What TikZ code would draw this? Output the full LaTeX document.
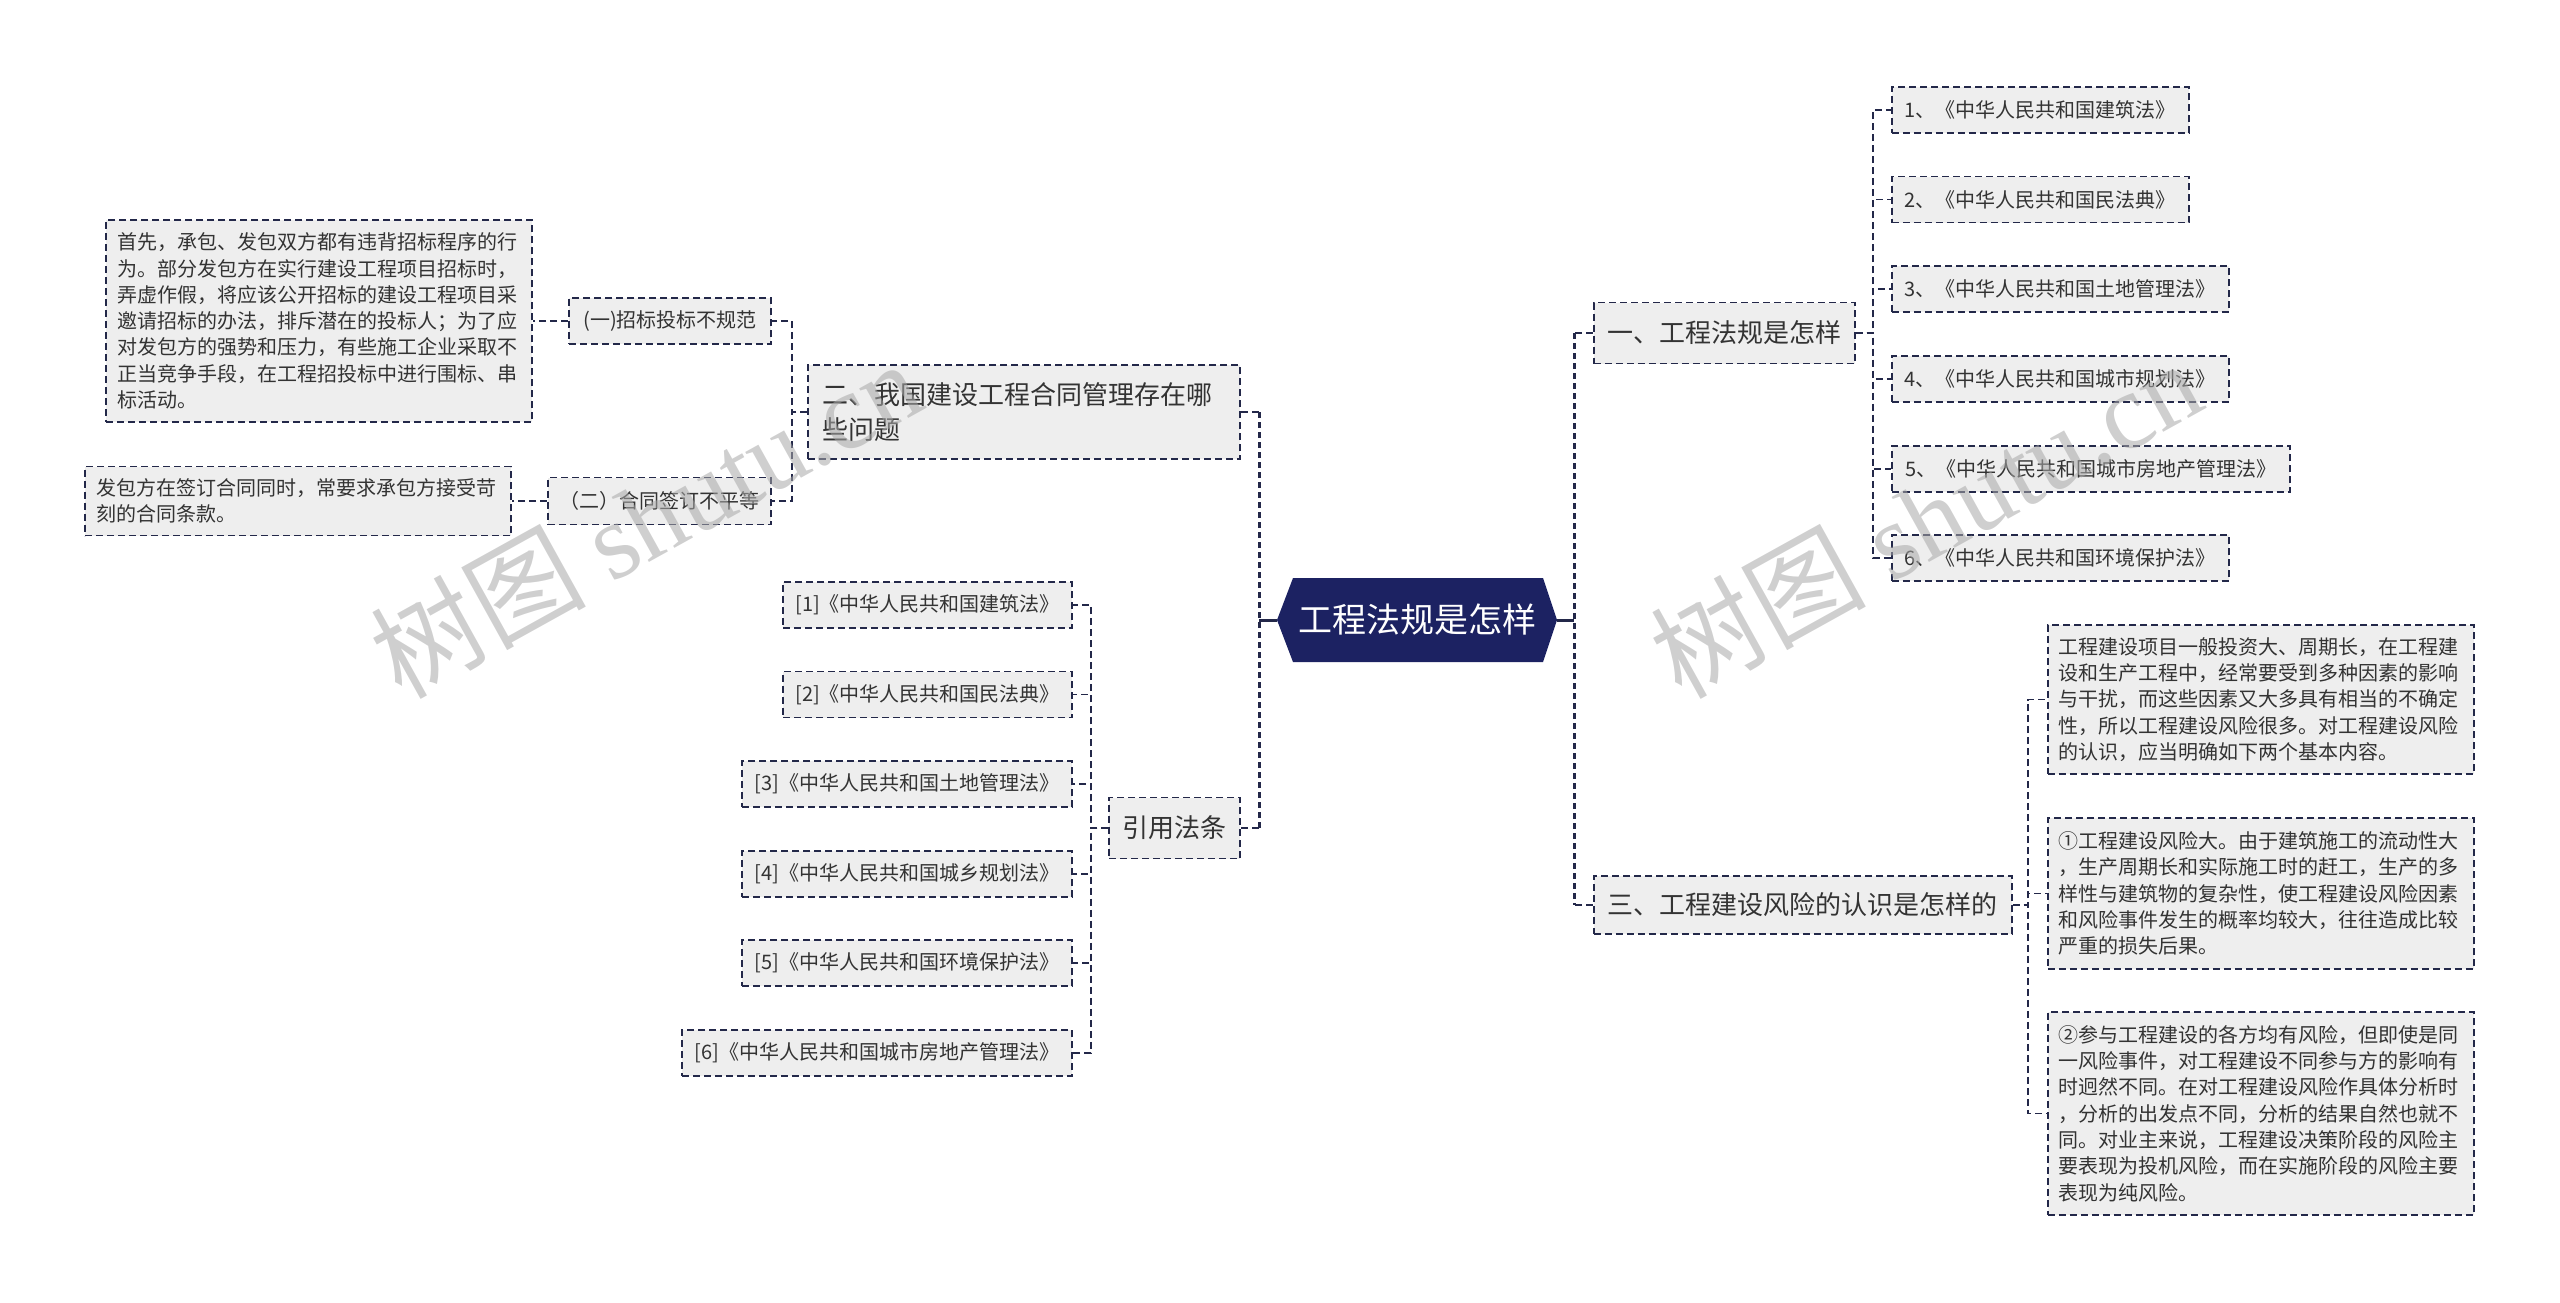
\documentclass[tikz,border=0pt]{standalone}
\usepackage{fontspec}
\setmainfont{Noto Sans CJK SC}
\newfontfamily\wmlatin{Liberation Serif}
\definecolor{linec}{HTML}{232849}
\definecolor{rootc}{HTML}{1C2262}
\definecolor{boxf}{HTML}{EEEEEE}
\definecolor{txtc}{HTML}{333333}
\definecolor{wmc}{HTML}{A8A8A8}
\begin{document}
\begin{tikzpicture}[x=1pt,y=-1pt,
  box/.style={draw=linec, fill=boxf, line width=1.8pt, dash pattern=on 7pt off 4pt, text=txtc, inner sep=0pt, rectangle},
  small/.style={font=\fontsize{20}{26.3}\selectfont},
  big/.style={font=\fontsize{26}{35}\selectfont},
  leaf/.style={box, small, minimum height=46pt},
  para/.style={box, small, align=left, text width=404pt, inner xsep=11pt, inner ysep=9pt},
  conn/.style={draw=linec, line width=1.8pt, dash pattern=on 7pt off 4pt},
  mtrunk/.style={draw=linec, line width=3pt, dash pattern=on 6pt off 4pt},
  solidc/.style={draw=linec, line width=3pt},
  wm/.style={text=wmc, opacity=0.55, font=\fontsize{108}{112}\selectfont, rotate=29},
]
\useasboundingbox (0,0) rectangle (2560,1302);

% root
\fill[rootc] (1277,620) -- (1293,578) -- (1543,578) -- (1557,620) -- (1543,662) -- (1293,662) -- cycle;
\node[minimum width=280pt, minimum height=84pt, inner sep=0pt, text=white, font=\fontsize{34}{40}\selectfont] (root) at (1417,620) {工程法规是怎样};
\coordinate (LT) at (1259,620);
\coordinate (RT) at (1574,620);

% level 1
\node[box, big, anchor=west, minimum width=261pt, minimum height=61pt] (n1) at (1593,333) {一、工程法规是怎样};
\node[box, big, anchor=west, minimum width=418pt, minimum height=58pt] (n3) at (1593,905) {三、工程建设风险的认识是怎样的};
\node[box, big, anchor=east, align=left, text width=404pt, inner xsep=14pt, minimum height=94pt] (n2) at (1241,412) {二、我国建设工程合同管理存在哪\\些问题};
\node[box, big, anchor=east, minimum width=131pt, minimum height=61pt] (n4) at (1241,828) {引用法条};

% right of n1
\coordinate (S1) at (1873,0);
\node[leaf, anchor=west, minimum width=297pt] (r1) at (1891,110) {1、《中华人民共和国建筑法》};
\node[leaf, anchor=west, minimum width=297pt] (r2) at (1891,199.5) {2、《中华人民共和国民法典》};
\node[leaf, anchor=west, minimum width=337pt] (r3) at (1891,289) {3、《中华人民共和国土地管理法》};
\node[leaf, anchor=west, minimum width=337pt] (r4) at (1891,379) {4、《中华人民共和国城市规划法》};
\node[leaf, anchor=west, minimum width=398pt] (r5) at (1891,469) {5、《中华人民共和国城市房地产管理法》};
\node[leaf, anchor=west, minimum width=337pt] (r6) at (1891,558) {6、《中华人民共和国环境保护法》};

% right of n3
\coordinate (S3) at (2028,0);
\node[para, anchor=west, minimum height=149pt] (pa) at (2047,699.5) {工程建设项目一般投资大、周期长，在工程建\\设和生产工程中，经常要受到多种因素的影响\\与干扰，而这些因素又大多具有相当的不确定\\性，所以工程建设风险很多。对工程建设风险\\的认识，应当明确如下两个基本内容。};
\node[para, anchor=west, minimum height=151pt] (pb) at (2047,893.5) {①工程建设风险大。由于建筑施工的流动性大\\，生产周期长和实际施工时的赶工，生产的多\\样性与建筑物的复杂性，使工程建设风险因素\\和风险事件发生的概率均较大，往往造成比较\\严重的损失后果。};
\node[para, anchor=west, minimum height=203pt] (pc) at (2047,1113.5) {②参与工程建设的各方均有风险，但即使是同\\一风险事件，对工程建设不同参与方的影响有\\时迥然不同。在对工程建设风险作具体分析时\\，分析的出发点不同，分析的结果自然也就不\\同。对业主来说，工程建设决策阶段的风险主\\要表现为投机风险，而在实施阶段的风险主要\\表现为纯风险。};

% left of n2
\coordinate (S2) at (792,0);
\node[leaf, anchor=east, minimum width=202pt] (l1) at (772,321) {(一)招标投标不规范};
\node[leaf, anchor=east, minimum width=223pt, minimum height=47pt] (l2) at (772,501) {（二）合同签订不平等};
\node[para, anchor=east, minimum height=202pt] (pl1) at (533,321) {首先，承包、发包双方都有违背招标程序的行\\为。部分发包方在实行建设工程项目招标时，\\弄虚作假，将应该公开招标的建设工程项目采\\邀请招标的办法，排斥潜在的投标人；为了应\\对发包方的强势和压力，有些施工企业采取不\\正当竞争手段，在工程招投标中进行围标、串\\标活动。};
\node[para, anchor=east, minimum height=69pt] (pl2) at (512,501) {发包方在签订合同同时，常要求承包方接受苛\\刻的合同条款。};

% left of n4
\coordinate (S4) at (1091,0);
\node[leaf, anchor=east, minimum width=289pt] (c1) at (1073,605) {[1]《中华人民共和国建筑法》};
\node[leaf, anchor=east, minimum width=289pt] (c2) at (1073,694.5) {[2]《中华人民共和国民法典》};
\node[leaf, anchor=east, minimum width=330pt] (c3) at (1073,784) {[3]《中华人民共和国土地管理法》};
\node[leaf, anchor=east, minimum width=330pt] (c4) at (1073,874) {[4]《中华人民共和国城乡规划法》};
\node[leaf, anchor=east, minimum width=330pt] (c5) at (1073,963) {[5]《中华人民共和国环境保护法》};
\node[leaf, anchor=east, minimum width=390pt] (c6) at (1073,1053) {[6]《中华人民共和国城市房地产管理法》};

% main connectors
\draw[solidc] (root.west) -- (LT);
\draw[solidc] (root.east) -- (RT);
\draw[mtrunk] (n2.east -| LT) -- (n4.east -| LT);
\draw[mtrunk] (n1.west -| RT) -- (n3.west -| RT);
\draw[conn] (n2.east) -- (n2.east -| LT);
\draw[conn] (n4.east) -- (n4.east -| LT);
\draw[conn] (n1.west) -- (n1.west -| RT);
\draw[conn] (n3.west) -- (n3.west -| RT);

% sub connectors
\foreach \c in {r1,r2,r3,r4,r5,r6}
  \draw[conn] (n1.east) -- (n1.east -| S1) |- (\c.west);
\foreach \c in {pa,pb,pc}
  \draw[conn] (n3.east) -- (n3.east -| S3) |- (\c.west);
\foreach \c in {l1,l2}
  \draw[conn] (n2.west) -- (n2.west -| S2) |- (\c.east);
\foreach \c in {c1,c2,c3,c4,c5,c6}
  \draw[conn] (n4.west) -- (n4.west -| S4) |- (\c.east);
\draw[conn] (l1.west) -- (pl1.east);
\draw[conn] (l2.west) -- (pl2.east);

% watermark
\node[wm] (wm1) at (645,518) {树图 {\wmlatin shutu.cn}};
\node[wm] (wm2) at (1925,518) {树图 {\wmlatin shutu.cn}};
\end{tikzpicture}
\end{document}
